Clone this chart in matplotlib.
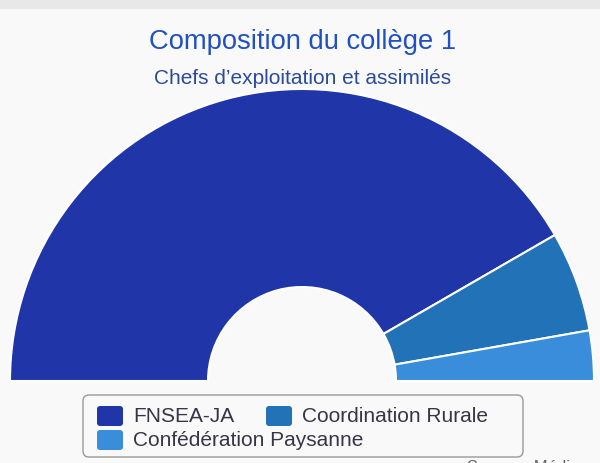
import matplotlib.pyplot as plt
from matplotlib.patches import FancyBboxPatch, Rectangle

# données : sièges du collège 1
labels = ["FNSEA-JA", "Coordination Rurale", "Confédération Paysanne"]
seats = [15, 2, 1]
colors = ["#1f35a8", "#2272b8", "#398dda"]

title = "Composition du collège 1"
subtitle = "Chefs d\u2019exploitation et assimilés"
source = "Source : Médiapart"

W, H = 600, 464
plt.rcParams['font.family'] = ['Liberation Sans', 'DejaVu Sans']

fig = plt.figure(figsize=(W / 100, H / 100), dpi=100)
fig.patch.set_facecolor("#f9f9f9")
ax = fig.add_axes([0, 0, 1, 1])
ax.set_facecolor("#f9f9f9")

# demi-donut : une part invisible pour la moitié basse
total = sum(seats)
wedges, _ = ax.pie(seats + [total], colors=colors + ["none"],
                   startangle=180, counterclock=False,
                   center=(302, H - 382), radius=292, frame=True,
                   wedgeprops=dict(width=198, edgecolor="white", linewidth=1.5))
wedges[-1].set_visible(False)

ax.set_xlim(0, W)
ax.set_ylim(0, H)
ax.set_aspect("auto")
ax.axis("off")

# bandeau gris en haut
ax.add_patch(Rectangle((0, H - 10), W, 10, color="#e8e8e8", lw=0))

ax.text(303, H - 42, title, ha="center", va="center", fontsize=19.7,
        color="#2150c2")
ax.text(303, H - 79, subtitle, ha="center", va="center", fontsize=15,
        color="#2a4a9c")

# légende
ax.add_patch(FancyBboxPatch((83, H - 458), 440, 62,
                            boxstyle="round,pad=0,rounding_size=6",
                            fc="#f9f9f9", ec="#999999", lw=1))
positions = [(97, 417), (266, 417), (97, 441)]
for (x, y), lab, col in zip(positions, labels, colors):
    ax.add_patch(FancyBboxPatch((x, H - y - 10), 26, 20,
                                boxstyle="round,pad=0,rounding_size=3",
                                fc=col, ec="none"))
    ax.text(x + 36, H - y, lab, ha="left", va="center", fontsize=15,
            color="#363648")

ax.text(467, H - 460, source, ha="left", va="top", fontsize=12,
        color="#666666")

fig.savefig("out.png", dpi=100, facecolor=fig.get_facecolor())
